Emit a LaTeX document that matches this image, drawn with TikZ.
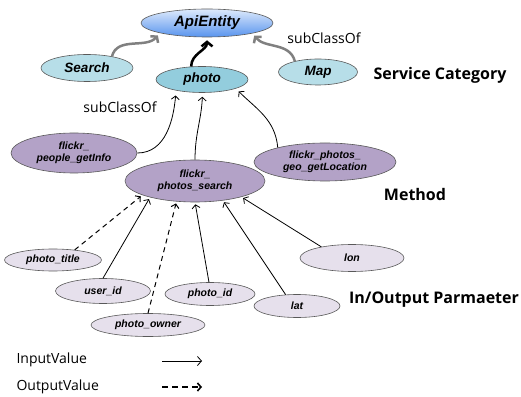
\documentclass[tikz,border=0pt]{standalone}
\usepackage{fontspec}
\setsansfont{Liberation Sans}
\newfontfamily\labelfont{Open Sans}
\usetikzlibrary{shapes.geometric,arrows.meta}

\definecolor{apitop}{RGB}{222,234,252}
\definecolor{apibot}{RGB}{88,148,238}
\definecolor{catfill}{RGB}{183,222,232}
\definecolor{photofill}{RGB}{147,205,221}
\definecolor{methodfill}{RGB}{179,162,199}
\definecolor{paramfill}{RGB}{230,224,236}
\definecolor{edgegray}{RGB}{128,128,128}

\begin{document}
\begin{tikzpicture}[
  x=1pt, y=1pt,
  entity/.style={ellipse, draw=black!65, line width=0.6pt, inner sep=0pt, align=center},
  api/.style={entity, top color=apitop, bottom color=apibot, minimum width=132pt, minimum height=28pt,
    font=\sffamily\bfseries\itshape\fontsize{15}{18}\selectfont},
  cat/.style={entity, fill=catfill, font=\sffamily\bfseries\itshape\fontsize{13.5}{16}\selectfont},
  method/.style={entity, fill=methodfill, font=\sffamily\bfseries\itshape\fontsize{10.5}{12}\selectfont},
  param/.style={entity, fill=paramfill, font=\sffamily\bfseries\itshape\fontsize{10.5}{12}\selectfont},
  sub/.style={edgegray, line width=2.5pt, -{Straight Barb[length=4pt,width=10pt]}, shorten >=3pt},
  inval/.style={line width=0.8pt, -{Straight Barb[length=3.5pt,width=8pt]}, shorten >=2pt},
  outval/.style={inval, dash pattern=on 5pt off 4pt, line width=1pt},
  lbl/.style={font=\labelfont\fontsize{14}{16}\selectfont},
  layer/.style={font=\labelfont\bfseries\fontsize{16}{19}\selectfont}
]
\useasboundingbox (0,0) rectangle (521,396);

% Service category
\node[api] (api) at (207,373) {ApiEntity};
\node[cat, minimum width=92pt, minimum height=27pt] (search) at (87,328) {Search};
\node[cat, fill=photofill, minimum width=92pt, minimum height=26pt] (photo) at (202,316.5) {photo};
\node[cat, minimum width=79pt, minimum height=26pt] (map) at (318,324) {Map};

% Methods
\node[method, minimum width=126pt, minimum height=40pt] (people) at (74,243) {flickr\_\\people\_getInfo};
\node[method, minimum width=142pt, minimum height=38pt] (geo) at (325,234) {flickr\_photos\_\\geo\_getLocation};
\node[method, minimum width=140pt, minimum height=42pt] (fsearch) at (195,215) {flickr\_\\photos\_search};

% Parameters
\node[param, minimum width=97pt, minimum height=22pt] (ptitle) at (53,136) {photo\_title};
\node[param, minimum width=95pt, minimum height=25pt] (userid) at (103,105) {user\_id};
\node[param, minimum width=114pt, minimum height=23pt] (powner) at (148,71) {photo\_owner};
\node[param, minimum width=90pt, minimum height=23pt] (photoid) at (210,102) {photo\_id};
\node[param, minimum width=86pt, minimum height=23pt] (lat) at (297,90) {lat};
\node[param, minimum width=104pt, minimum height=27pt] (lon) at (352,138) {lon};

% subClassOf links
\draw[sub] (search.25) to[out=75,in=-130] (api.192);
\draw[sub] (map.155) to[out=105,in=-50] (api.347);
\draw[sub, black, -{Straight Barb[length=4.5pt,width=11pt]}] (photo.130) to[out=90,in=-90] (api.270);

% Method links
\draw[inval, shorten >=5pt] (people.east) to[out=0,in=-95] (photo.203);
\draw[inval, shorten >=4pt] (fsearch.north) to[out=90,in=-92] (photo.-88);
\draw[inval, shorten >=4pt] (geo.163) to[out=95,in=-45] (photo.-15);

% Parameter links
\draw[outval] (ptitle.25) -- (fsearch.195);
\draw[inval] (userid.90) -- (fsearch.200);
\draw[outval] (powner.90) -- (fsearch.228);
\draw[inval] (photoid.95) -- (fsearch.270);
\draw[inval] (lat.135) -- (fsearch.325);
\draw[inval] (lon.160) -- (fsearch.341);

% Labels
\node[lbl] (subr) at (324,358) {subClassOf};
\node[lbl] (subl) at (120,289) {subClassOf};
\node[layer] (catlbl) at (440,321) {Service Category};
\node[layer] (methlbl) at (415,201) {Method};
\node[layer] (paramlbl) at (434,96) {In/Output Parmaeter};

% Legend
\node[lbl, anchor=west] (inlbl) at (13,36) {InputValue};
\node[lbl, anchor=west] (outlbl) at (13,9) {OutputValue};
\coordinate (ina) at (162,35);
\coordinate (inb) at (202,35);
\coordinate (outa) at (162,9);
\coordinate (outb) at (202,9);
\draw[inval, shorten >=0pt, -{Straight Barb[length=4pt,width=9pt]}] (ina) -- (inb);
\draw[outval, shorten >=0pt, line width=1.6pt, dash pattern=on 6pt off 4pt,
  -{Straight Barb[length=3.5pt,width=8pt]}] (outa) -- (outb);

\end{tikzpicture}
\end{document}
